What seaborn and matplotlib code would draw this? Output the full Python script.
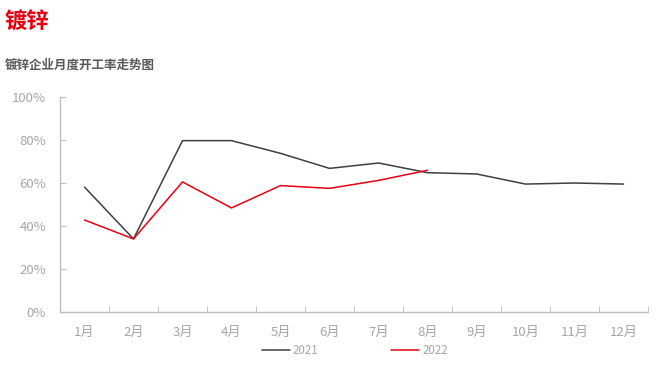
import pandas as pd
import matplotlib.pyplot as plt
from matplotlib.ticker import FixedLocator, PercentFormatter
import seaborn as sns

months = ['1月', '2月', '3月', '4月', '5月', '6月', '7月', '8月', '9月', '10月', '11月', '12月']
rate_2021 = [58.1, 34.0, 79.7, 79.7, 73.8, 66.8, 69.3, 64.8, 64.2, 59.5, 60.0, 59.5]
rate_2022 = [42.8, 34.0, 60.5, 48.4, 58.8, 57.5, 61.2, 65.9]

rows = []
for i, v in enumerate(rate_2021):
    rows.append({'idx': i, 'year': '2021', 'rate': v})
for i, v in enumerate(rate_2022):
    rows.append({'idx': i, 'year': '2022', 'rate': v})
df = pd.DataFrame(rows)

sns.set_style('white')
plt.rcParams['font.family'] = ['Noto Sans CJK SC', 'DejaVu Sans']

fig = plt.figure(figsize=(6.71, 3.68), dpi=100)
ax = fig.add_axes([60 / 671, 1 - 312 / 368, (648 - 60) / 671, (312 - 97) / 368])

palette = {'2021': '#404040', '2022': '#e60012'}
sns.lineplot(data=df, x='idx', y='rate', hue='year', palette=palette,
             linewidth=1.1, ax=ax, legend=False)

axis_grey = '#bfbfbf'
label_grey = '#a6a6a6'

ax.set_xlim(-0.5, 11.5)
ax.set_ylim(0, 100)
ax.set_xticks(range(12))
ax.set_xticklabels(months)
ax.xaxis.set_minor_locator(FixedLocator([i + 0.5 for i in range(-1, 12)]))
ax.set_yticks(range(0, 101, 20))
ax.yaxis.set_major_formatter(PercentFormatter(decimals=0))
ax.set_xlabel('')
ax.set_ylabel('')

for side in ['top', 'right']:
    ax.spines[side].set_visible(False)
for side in ['left', 'bottom']:
    ax.spines[side].set_color(axis_grey)
    ax.spines[side].set_linewidth(1)

ax.tick_params(axis='x', which='major', length=0, pad=10, labelsize=9.5, labelcolor=label_grey)
ax.tick_params(axis='x', which='minor', direction='in', length=4, color=axis_grey, bottom=True)
ax.tick_params(axis='y', direction='in', length=4, color=axis_grey, left=True,
               pad=10, labelsize=9.5, labelcolor=label_grey)

handles = [plt.Line2D([], [], color=palette['2021'], lw=1.1),
           plt.Line2D([], [], color=palette['2022'], lw=1.1)]
leg = fig.legend(handles, ['2021', '2022'], loc='center', bbox_to_anchor=(0.529, 1 - 351 / 368),
                 ncol=2, frameon=False, fontsize=8.3, handlelength=2.4, columnspacing=6.3,
                 handletextpad=0.3)
for t in leg.get_texts():
    t.set_color(label_grey)

fig.text(5 / 671, 1 - 21 / 368, '镀锌', color='#e60012', fontsize=16, fontweight='bold', va='center')
fig.text(5 / 671, 1 - 65 / 368, '镀锌企业月度开工率走势图', color='#595959', fontsize=9,
         fontweight='bold', va='center')

fig.savefig('out.png', dpi=100)
